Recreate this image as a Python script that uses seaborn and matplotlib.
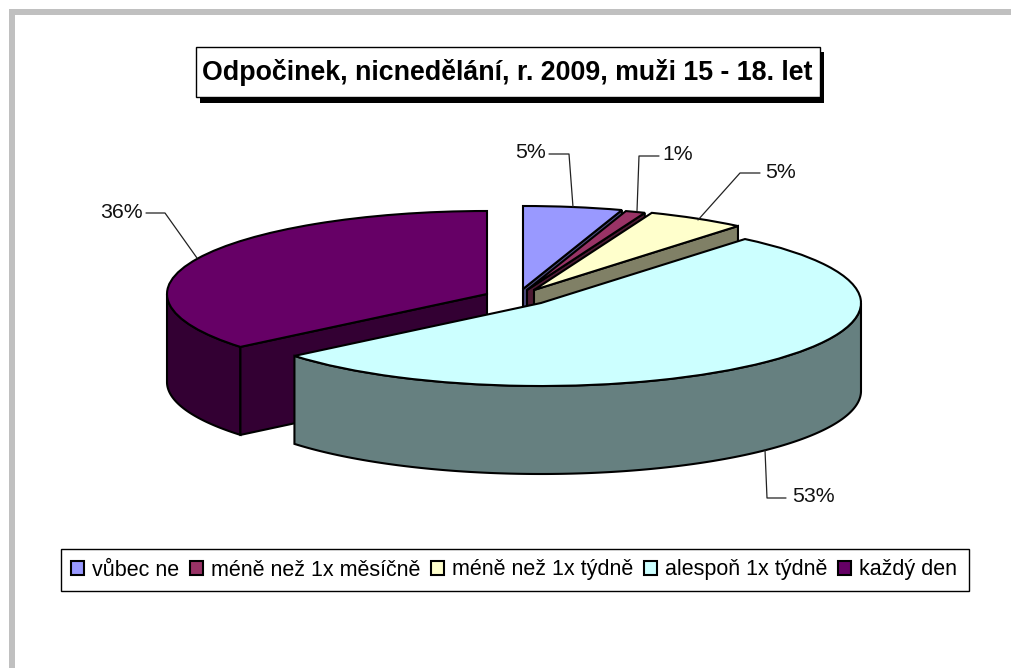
import numpy as np
import matplotlib
matplotlib.use("Agg")
import matplotlib.pyplot as plt
import seaborn as sns
from matplotlib.patches import Rectangle

# data
categories = ["vůbec ne", "méně než 1x měsíčně", "méně než 1x týdně", "alespoň 1x týdně", "každý den"]
shares = [5, 1, 5, 53, 36]
colors = ["#9999FF", "#993366", "#FFFFCC", "#CCFFFF", "#660066"]
title = "Odpočinek, nicnedělání, r. 2009, muži 15 - 18. let"

W, H = 1011, 668
RX, RY = 320.0, 83.0  # ellipse radii in px
DEPTH = 88.0

# layout of the exploded slices, in px
slice_centers = [(523, 289), (527, 290), (534, 290), (541, 303), (487, 294)]
draw_order = [4, 0, 1, 2, 3]

# label anchor, then leader line
label_pos = [(531, 153), (678, 155), (781, 172), (813, 497), (121, 213)]
leaders = [
    [(549, 154), (569, 154), (573, 207)],
    [(659, 156), (639, 156), (637, 211)],
    [(760, 173), (740, 173), (698, 220)],
    [(786, 498), (767, 498), (765, 450)],
    [(146, 213), (165, 213), (197, 258)],
]

sns.set_theme(style="white")
plt.rcParams["font.family"] = ["Liberation Sans", "DejaVu Sans"]
palette = sns.color_palette(colors)


def to_units(px, py):
    return px / RX, (H - py) / RY


fig = plt.figure(figsize=(W / 100, H / 100), dpi=100)
fig.patch.set_facecolor("white")

# pie axes: one unit is RX px across and RY px up, so the circle becomes an ellipse
ax = fig.add_axes([0, 0, 1, 1])
wedges, _ = ax.pie(
    shares,
    colors=palette,
    startangle=90,
    counterclock=False,
    wedgeprops={"edgecolor": "black", "linewidth": 1.5},
)
ax.set_aspect("auto")
ax.set_xlim(0, W / RX)
ax.set_ylim(0, H / RY)
ax.axis("off")

dz = DEPTH / RY
z = 2
for i in draw_order:
    w = wedges[i]
    cx, cy = to_units(*slice_centers[i])
    w.set_center((cx, cy))
    dark = tuple(c * 0.5 for c in palette[i])

    # outer wall, only the front half of the rim shows
    t = np.radians(np.linspace(w.theta1, w.theta2, 400))
    t = t[np.sin(t) <= 0]
    if len(t) > 1:
        x = cx + np.cos(t)
        y = cy + np.sin(t)
        ax.fill(np.r_[x, x[::-1]], np.r_[y, y[::-1] - dz], facecolor=dark,
                edgecolor="black", linewidth=1.5, zorder=z)

    # cut face of the slice
    if i != 3:
        a = np.radians(w.theta2 if i == 4 else w.theta1)
        ex, ey = cx + np.cos(a), cy + np.sin(a)
        ax.fill([cx, ex, ex, cx], [cy, ey, ey - dz, cy - dz], facecolor=dark,
                edgecolor="black", linewidth=1.5, zorder=z + 1)

    w.set_zorder(z + 2)
    z += 3

# overlay in pixel coordinates for frame, title and labels
top = fig.add_axes([0, 0, 1, 1], facecolor="none")
top.set_xlim(0, W)
top.set_ylim(H, 0)
top.axis("off")

top.add_patch(Rectangle((9, 9), W - 9, 6, facecolor="#C0C0C0", edgecolor="none"))
top.add_patch(Rectangle((9, 9), 6, H - 9, facecolor="#C0C0C0", edgecolor="none"))

top.add_patch(Rectangle((200, 52), 624, 51, facecolor="black", edgecolor="none"))
top.add_patch(Rectangle((196, 47), 624, 50, facecolor="white", edgecolor="black", linewidth=1))
top.text(507, 73, title, fontsize=19.3, fontweight="bold", color="black", ha="center", va="center")

for share, pos, line in zip(shares, label_pos, leaders):
    top.text(pos[0], pos[1], f"{share}%", fontsize=15.3, color="#111111", ha="center", va="center")
    xs, ys = zip(*line)
    top.plot(xs, ys, color="#222222", linewidth=0.9)

top.add_patch(Rectangle((61, 549), 908, 42, facecolor="white", edgecolor="black", linewidth=1))
leg = top.legend(
    wedges,
    categories,
    ncol=5,
    loc="center",
    bbox_to_anchor=(514 / W, 1 - 570 / H),
    bbox_transform=fig.transFigure,
    fontsize=15.5,
    frameon=False,
    handlelength=0.6,
    handleheight=0.6,
    handletextpad=0.38,
    columnspacing=0.5,
    borderpad=0,
    borderaxespad=0,
    labelcolor="black",
)

fig.savefig("out.png", dpi=100)
